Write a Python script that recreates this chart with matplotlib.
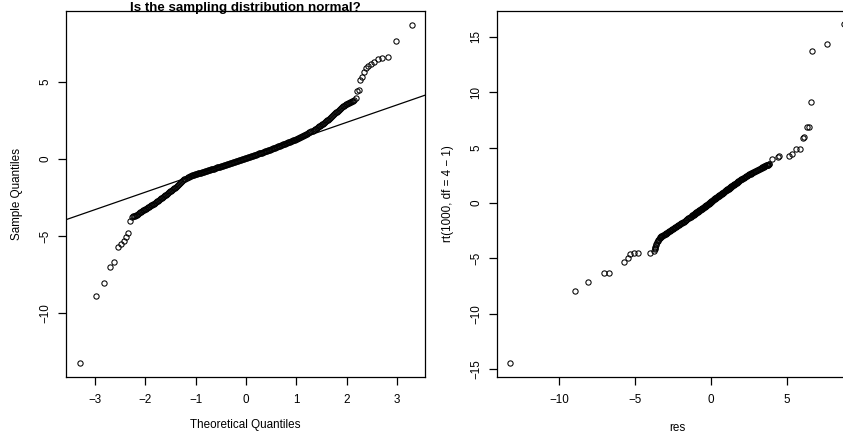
import matplotlib
matplotlib.use("Agg")
import matplotlib.pyplot as plt

plt.rcParams['font.family'] = ['Liberation Sans', 'DejaVu Sans']

# --- lower tail (single visible points) ---
theo_lo = [-3.29, -2.97, -2.81, -2.70, -2.61, -2.54, -2.48, -2.43, -2.39, -2.35, -2.31, -2.27]
res_lo = [-13.25, -8.92, -8.08, -7.02, -6.72, -5.74, -5.49, -5.32, -5.05, -4.78, -4.04, -3.76]
rt_lo = [-14.50, -7.95, -7.10, -6.29, -6.29, -5.30, -4.97, -4.60, -4.49, -4.49, -4.49, -4.34]

# --- dense middle band ---
theo_mid = [
    -2.24, -2.22, -2.20, -2.18, -2.16, -2.14, -2.12, -2.10, -2.08, -2.06,
    -2.04, -2.02, -2.00, -1.98, -1.96, -1.94, -1.92, -1.90, -1.88, -1.86,
    -1.84, -1.82, -1.80, -1.78, -1.76, -1.74, -1.72, -1.70, -1.68, -1.66,
    -1.64, -1.62, -1.60, -1.58, -1.56, -1.54, -1.52, -1.50, -1.48, -1.46,
    -1.44, -1.42, -1.40, -1.38, -1.36, -1.34, -1.32, -1.30, -1.28, -1.26,
    -1.24, -1.22, -1.20, -1.18, -1.16, -1.14, -1.12, -1.10, -1.08, -1.06,
    -1.04, -1.02, -1.00, -0.98, -0.96, -0.94, -0.92, -0.90, -0.88, -0.86,
    -0.84, -0.82, -0.80, -0.78, -0.76, -0.74, -0.72, -0.70, -0.68, -0.66,
    -0.64, -0.62, -0.60, -0.58, -0.56, -0.54, -0.52, -0.50, -0.48, -0.46,
    -0.44, -0.42, -0.40, -0.38, -0.36, -0.34, -0.32, -0.30, -0.28, -0.26,
    -0.24, -0.22, -0.20, -0.18, -0.16, -0.14, -0.12, -0.10, -0.08, -0.06,
    -0.04, -0.02, 0.00, 0.02, 0.04, 0.06, 0.08, 0.10, 0.12, 0.14,
    0.16, 0.18, 0.20, 0.22, 0.24, 0.26, 0.28, 0.30, 0.32, 0.34,
    0.36, 0.38, 0.40, 0.42, 0.44, 0.46, 0.48, 0.50, 0.52, 0.54,
    0.56, 0.58, 0.60, 0.62, 0.64, 0.66, 0.68, 0.70, 0.72, 0.74,
    0.76, 0.78, 0.80, 0.82, 0.84, 0.86, 0.88, 0.90, 0.92, 0.94,
    0.96, 0.98, 1.00, 1.02, 1.04, 1.06, 1.08, 1.10, 1.12, 1.14,
    1.16, 1.18, 1.20, 1.22, 1.24, 1.26, 1.28, 1.30, 1.32, 1.34,
    1.36, 1.38, 1.40, 1.42, 1.44, 1.46, 1.48, 1.50, 1.52, 1.54,
    1.56, 1.58, 1.60, 1.62, 1.64, 1.66, 1.68, 1.70, 1.72, 1.74,
    1.76, 1.78, 1.80, 1.82, 1.84, 1.86, 1.88, 1.90, 1.92, 1.94,
    1.96, 1.98, 2.00, 2.02, 2.04, 2.06, 2.08, 2.10, 2.12,
]
res_mid = [
    -3.72, -3.70, -3.68, -3.65, -3.62, -3.57, -3.52, -3.47, -3.42, -3.38,
    -3.34, -3.30, -3.27, -3.24, -3.20, -3.15, -3.10, -3.06, -3.02, -2.98,
    -2.94, -2.90, -2.86, -2.81, -2.76, -2.71, -2.66, -2.61, -2.56, -2.51,
    -2.46, -2.41, -2.36, -2.31, -2.26, -2.21, -2.16, -2.11, -2.06, -2.01,
    -1.96, -1.91, -1.86, -1.80, -1.74, -1.68, -1.62, -1.56, -1.50, -1.44,
    -1.38, -1.33, -1.28, -1.23, -1.19, -1.15, -1.12, -1.09, -1.07, -1.04,
    -1.02, -1.00, -0.98, -0.96, -0.94, -0.92, -0.90, -0.88, -0.86, -0.84,
    -0.82, -0.80, -0.78, -0.76, -0.74, -0.72, -0.70, -0.68, -0.66, -0.64,
    -0.62, -0.60, -0.58, -0.55, -0.53, -0.51, -0.49, -0.47, -0.45, -0.43,
    -0.41, -0.39, -0.37, -0.35, -0.33, -0.31, -0.29, -0.26, -0.24, -0.22,
    -0.20, -0.18, -0.16, -0.14, -0.12, -0.09, -0.07, -0.05, -0.03, 0.00,
    0.02, 0.04, 0.06, 0.08, 0.10, 0.13, 0.15, 0.17, 0.19, 0.22,
    0.24, 0.26, 0.28, 0.31, 0.33, 0.36, 0.38, 0.40, 0.42, 0.45,
    0.47, 0.50, 0.52, 0.54, 0.56, 0.59, 0.61, 0.64, 0.66, 0.69,
    0.71, 0.74, 0.76, 0.79, 0.82, 0.85, 0.87, 0.90, 0.92, 0.95,
    0.98, 1.00, 1.03, 1.05, 1.08, 1.10, 1.13, 1.15, 1.18, 1.20,
    1.23, 1.25, 1.28, 1.31, 1.34, 1.37, 1.40, 1.43, 1.46, 1.49,
    1.53, 1.56, 1.60, 1.64, 1.68, 1.72, 1.76, 1.80, 1.84, 1.88,
    1.93, 1.97, 2.02, 2.06, 2.11, 2.15, 2.20, 2.25, 2.30, 2.35,
    2.40, 2.45, 2.50, 2.55, 2.61, 2.66, 2.72, 2.78, 2.84, 2.90,
    2.96, 3.02, 3.08, 3.14, 3.21, 3.27, 3.34, 3.38, 3.42, 3.46,
    3.50, 3.54, 3.58, 3.62, 3.65, 3.69, 3.72, 3.75, 3.78,
]
rt_mid = [
    -4.20, -4.08, -3.95, -3.82, -3.70, -3.57, -3.45, -3.33, -3.22, -3.16,
    -3.10, -3.06, -3.02, -2.99, -2.96, -2.92, -2.88, -2.84, -2.80, -2.76,
    -2.72, -2.68, -2.64, -2.60, -2.55, -2.50, -2.46, -2.42, -2.38, -2.34,
    -2.30, -2.25, -2.20, -2.15, -2.10, -2.05, -2.00, -1.96, -1.92, -1.88,
    -1.84, -1.79, -1.74, -1.69, -1.63, -1.58, -1.52, -1.46, -1.40, -1.34,
    -1.28, -1.23, -1.18, -1.13, -1.09, -1.05, -1.02, -0.99, -0.97, -0.94,
    -0.92, -0.90, -0.88, -0.86, -0.84, -0.82, -0.80, -0.78, -0.76, -0.74,
    -0.72, -0.70, -0.68, -0.66, -0.64, -0.62, -0.60, -0.58, -0.56, -0.54,
    -0.52, -0.50, -0.48, -0.45, -0.43, -0.41, -0.39, -0.37, -0.35, -0.33,
    -0.31, -0.29, -0.27, -0.25, -0.23, -0.21, -0.19, -0.16, -0.14, -0.12,
    -0.10, -0.07, -0.05, -0.03, -0.01, 0.02, 0.04, 0.07, 0.09, 0.12,
    0.14, 0.17, 0.19, 0.22, 0.24, 0.27, 0.29, 0.32, 0.34, 0.37,
    0.39, 0.41, 0.43, 0.46, 0.48, 0.51, 0.53, 0.55, 0.57, 0.60,
    0.62, 0.65, 0.67, 0.69, 0.71, 0.74, 0.76, 0.79, 0.81, 0.84,
    0.86, 0.89, 0.91, 0.94, 0.97, 1.00, 1.02, 1.05, 1.07, 1.10,
    1.13, 1.15, 1.18, 1.20, 1.23, 1.25, 1.28, 1.30, 1.33, 1.35,
    1.38, 1.40, 1.43, 1.46, 1.49, 1.52, 1.55, 1.58, 1.61, 1.64,
    1.68, 1.71, 1.75, 1.79, 1.83, 1.87, 1.91, 1.95, 1.99, 2.03,
    2.08, 2.12, 2.17, 2.21, 2.26, 2.30, 2.34, 2.38, 2.42, 2.46,
    2.50, 2.54, 2.58, 2.62, 2.66, 2.70, 2.74, 2.78, 2.83, 2.87,
    2.92, 2.96, 3.01, 3.05, 3.10, 3.14, 3.19, 3.22, 3.24, 3.27,
    3.30, 3.33, 3.36, 3.39, 3.41, 3.43, 3.45, 3.47, 3.49,
]

# --- upper tail ---
theo_hi = [2.15, 2.18, 2.21, 2.24, 2.27, 2.31, 2.35, 2.39, 2.43, 2.48,
           2.54, 2.61, 2.70, 2.81, 2.97, 3.29]
res_hi = [3.84, 3.98, 4.42, 4.50, 5.13, 5.30, 5.62, 5.88, 6.04, 6.14,
          6.30, 6.47, 6.57, 6.64, 7.64, 8.72]
rt_hi = [3.52, 3.95, 4.19, 4.28, 4.28, 4.43, 4.88, 4.88, 5.90, 5.99,
         6.84, 6.84, 9.15, 13.73, 14.33, 16.17]

# qqline goes through the 1st and 3rd quartiles
q_theo = [-0.674, 0.674]
q_res = [-0.655, 0.875]

theo = theo_lo + theo_mid + theo_hi
res = res_lo + res_mid + res_hi
rt_q = rt_lo + rt_mid + rt_hi
assert len(theo) == len(res) == len(rt_q)

W, H = 843, 434
fig = plt.figure(figsize=(W / 100, H / 100), dpi=100)

mk = dict(ls='none', marker='o', mfc='none', mec='black', ms=3.8, mew=0.75)


def r_style(ax):
    for s in ax.spines.values():
        s.set_linewidth(0.9)
    ax.tick_params(direction='out', length=6, width=0.9, labelsize=8.4, pad=6.5)
    ax.tick_params(axis='y', pad=4.5)
    for lab in ax.get_yticklabels():
        lab.set_rotation(90)
        lab.set_va('center')


# left panel: normal QQ plot
ax1 = fig.add_axes([66 / W, 57 / H, 359 / W, 366 / H])
ax1.plot(theo, res, **mk)
ax1.axline((q_theo[0], q_res[0]), (q_theo[1], q_res[1]), color='black', lw=0.9)
ax1.set_xlim(-3.571, 3.552)
ax1.set_ylim(-14.16, 9.61)
ax1.set_xticks([-3, -2, -1, 0, 1, 2, 3])
ax1.set_yticks([-10, -5, 0, 5])
r_style(ax1)
ax1.set_xlabel('Theoretical Quantiles', fontsize=8.4, va='center')
ax1.xaxis.set_label_coords(0.5, -0.131)
ax1.set_ylabel('Sample Quantiles', fontsize=8.4, va='center')
ax1.yaxis.set_label_coords(-0.136, 0.5)
fig.text(245.5 / W, 1 - 11 / H, 'Is the sampling distribution normal?',
         ha='center', va='baseline', fontsize=9.6, fontweight='bold')

# right panel: res against t quantiles
ax2 = fig.add_axes([497 / W, 57 / H, 360 / W, 366 / H])
ax2.plot(res, rt_q, **mk)
ax2.set_xlim(-14.08, 9.6)
ax2.set_ylim(-15.72, 17.34)
ax2.set_xticks([-10, -5, 0, 5])
ax2.set_yticks([-15, -10, -5, 0, 5, 10, 15])
r_style(ax2)
ax2.set_xlabel('res', fontsize=8.4, va='center')
ax2.xaxis.set_label_coords(0.5, -0.139)
ax2.set_ylabel('rt(1000, df = 4 − 1)', fontsize=8.4, va='center')
ax2.yaxis.set_label_coords(-0.136, 0.5)

fig.savefig('out.png', dpi=100)
